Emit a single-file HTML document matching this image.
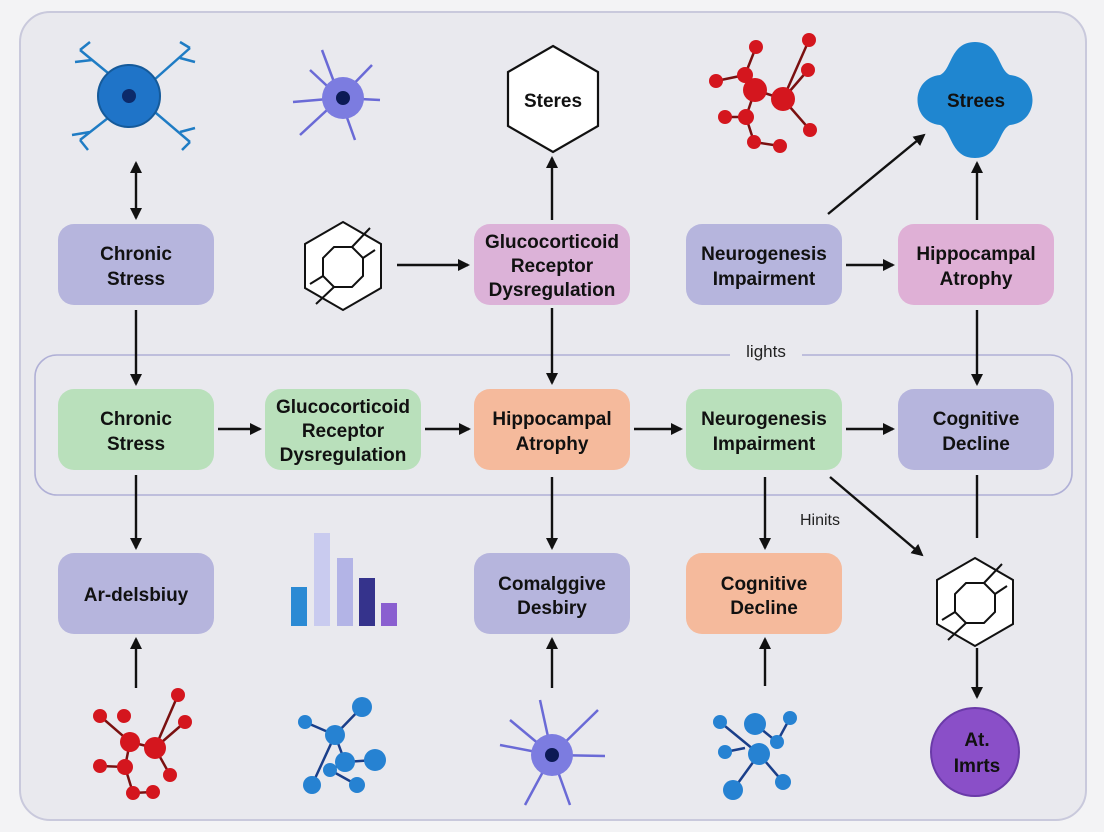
<!DOCTYPE html>
<html><head><meta charset="utf-8"><style>
html,body{margin:0;padding:0;background:#f3f3f5;}
svg{display:block;font-family:"Liberation Sans",sans-serif;}
.t{font-size:19px;font-weight:bold;fill:#111;text-anchor:middle;}
.l{stroke:#111;stroke-width:2.4;fill:none;}
</style></head><body>
<svg width="1104" height="832" viewBox="0 0 1104 832" xmlns="http://www.w3.org/2000/svg">
<defs>
<marker id="a" markerWidth="12" markerHeight="12" refX="10" refY="6" orient="auto" markerUnits="userSpaceOnUse"><path d="M0,0 L12,6 L0,12 z" fill="#111"/></marker>
<marker id="b" markerWidth="12" markerHeight="12" refX="2" refY="6" orient="auto" markerUnits="userSpaceOnUse"><path d="M12,0 L0,6 L12,12 z" fill="#111"/></marker>
</defs>
<rect x="0" y="0" width="1104" height="832" fill="#f3f3f5"/>
<rect x="20" y="12" width="1066" height="808" rx="30" fill="#e9e9ee" stroke="#c9c9dc" stroke-width="2"/>
<rect x="35" y="355" width="1037" height="140" rx="22" fill="none" stroke="#b0b0d6" stroke-width="1.6"/>
<rect x="730" y="340" width="72" height="22" fill="#e9e9ee"/>
<text x="766" y="357" font-size="17" fill="#222" text-anchor="middle">lights</text>
<text x="820" y="525" font-size="16" fill="#222" text-anchor="middle">Hinits</text>

<g>
<rect x="58" y="224" width="156" height="81" rx="16" fill="#b6b5dd"/>
<text class="t" x="136" y="260">Chronic</text><text class="t" x="136" y="285">Stress</text>
<rect x="474" y="224" width="156" height="81" rx="16" fill="#dcb2d8"/>
<text class="t" x="552" y="248">Glucocorticoid</text><text class="t" x="552" y="272">Receptor</text><text class="t" x="552" y="296">Dysregulation</text>
<rect x="686" y="224" width="156" height="81" rx="16" fill="#b6b5dd"/>
<text class="t" x="764" y="260">Neurogenesis</text><text class="t" x="764" y="285">Impairment</text>
<rect x="898" y="224" width="156" height="81" rx="16" fill="#dfb0d6"/>
<text class="t" x="976" y="260">Hippocampal</text><text class="t" x="976" y="285">Atrophy</text>

<rect x="58" y="389" width="156" height="81" rx="16" fill="#b9e0bb"/>
<text class="t" x="136" y="425">Chronic</text><text class="t" x="136" y="450">Stress</text>
<rect x="265" y="389" width="156" height="81" rx="16" fill="#b9e0bb"/>
<text class="t" x="343" y="413">Glucocorticoid</text><text class="t" x="343" y="437">Receptor</text><text class="t" x="343" y="461">Dysregulation</text>
<rect x="474" y="389" width="156" height="81" rx="16" fill="#f5ba9c"/>
<text class="t" x="552" y="425">Hippocampal</text><text class="t" x="552" y="450">Atrophy</text>
<rect x="686" y="389" width="156" height="81" rx="16" fill="#b9e0bb"/>
<text class="t" x="764" y="425">Neurogenesis</text><text class="t" x="764" y="450">Impairment</text>
<rect x="898" y="389" width="156" height="81" rx="16" fill="#b6b5dd"/>
<text class="t" x="976" y="425">Cognitive</text><text class="t" x="976" y="450">Decline</text>

<rect x="58" y="553" width="156" height="81" rx="16" fill="#b6b5dd"/>
<text class="t" x="136" y="601">Ar-delsbiuy</text>
<rect x="474" y="553" width="156" height="81" rx="16" fill="#b6b5dd"/>
<text class="t" x="552" y="590">Comalggive</text><text class="t" x="552" y="614">Desbiry</text>
<rect x="686" y="553" width="156" height="81" rx="16" fill="#f5ba9c"/>
<text class="t" x="764" y="590">Cognitive</text><text class="t" x="764" y="614">Decline</text>
</g>

<g class="l">
<line x1="136" y1="163" x2="136" y2="218" marker-start="url(#b)" marker-end="url(#a)"/>
<line x1="136" y1="310" x2="136" y2="384" marker-end="url(#a)"/>
<line x1="397" y1="265" x2="468" y2="265" marker-end="url(#a)"/>
<line x1="552" y1="220" x2="552" y2="158" marker-end="url(#a)"/>
<line x1="552" y1="308" x2="552" y2="383" marker-end="url(#a)"/>
<line x1="828" y1="214" x2="924" y2="135" marker-end="url(#a)"/>
<line x1="846" y1="265" x2="893" y2="265" marker-end="url(#a)"/>
<line x1="977" y1="220" x2="977" y2="163" marker-end="url(#a)"/>
<line x1="977" y1="310" x2="977" y2="384" marker-end="url(#a)"/>
<line x1="218" y1="429" x2="260" y2="429" marker-end="url(#a)"/>
<line x1="425" y1="429" x2="469" y2="429" marker-end="url(#a)"/>
<line x1="634" y1="429" x2="681" y2="429" marker-end="url(#a)"/>
<line x1="846" y1="429" x2="893" y2="429" marker-end="url(#a)"/>
<line x1="136" y1="475" x2="136" y2="548" marker-end="url(#a)"/>
<line x1="552" y1="477" x2="552" y2="548" marker-end="url(#a)"/>
<line x1="765" y1="477" x2="765" y2="548" marker-end="url(#a)"/>
<line x1="830" y1="477" x2="922" y2="555" marker-end="url(#a)"/>
<line x1="977" y1="475" x2="977" y2="538"/>
<line x1="977" y1="648" x2="977" y2="697" marker-end="url(#a)"/>
<line x1="136" y1="688" x2="136" y2="639" marker-end="url(#a)"/>
<line x1="552" y1="688" x2="552" y2="639" marker-end="url(#a)"/>
<line x1="765" y1="686" x2="765" y2="639" marker-end="url(#a)"/>
</g>

<g stroke="#1f7cc4" stroke-width="2.5" fill="none">
<path d="M136,96 L80,50 M92,60 L75,62 M80,50 L90,42 M136,96 L190,48 M180,58 L195,62 M190,48 L180,42 M136,96 L80,140 M90,132 L72,135 M80,140 L88,150 M136,96 L190,142 M180,132 L195,128 M190,142 L182,150"/>
</g>
<circle cx="129" cy="96" r="31" fill="#1f74c8" stroke="#155a9a" stroke-width="2"/>
<circle cx="129" cy="96" r="7" fill="#0c2a6a"/>
<g stroke="#6a6ad6" stroke-width="2.5" fill="none">
<path d="M340,98 L322,50 M340,98 L372,65 M340,98 L380,100 M340,98 L355,140 M340,98 L300,135 M340,98 L293,102 M340,98 L310,70"/>
</g>
<circle cx="343" cy="98" r="21" fill="#7c7ce0"/><circle cx="343" cy="98" r="7" fill="#0c1a55"/>
<polygon points="553,46 598,72 598,126 553,152 508,126 508,72" fill="#fff" stroke="#111" stroke-width="2.2"/>
<text class="t" x="553" y="107" font-size="18">Steres</text>
<g stroke="#7a1010" stroke-width="2.5" fill="none"><path d="M755,90 L745,75 L756,47 M745,75 L716,81 M755,90 L783,99 L809,40 M783,99 L808,70 M783,99 L810,130 M755,90 L746,117 L725,117 M746,117 L754,142 L780,146"/></g>
<g fill="#d4161e"><circle cx="755" cy="90" r="12"/><circle cx="783" cy="99" r="12"/><circle cx="745" cy="75" r="8"/><circle cx="756" cy="47" r="7"/><circle cx="716" cy="81" r="7"/><circle cx="809" cy="40" r="7"/><circle cx="808" cy="70" r="7"/><circle cx="810" cy="130" r="7"/><circle cx="746" cy="117" r="8"/><circle cx="725" cy="117" r="7"/><circle cx="754" cy="142" r="7"/><circle cx="780" cy="146" r="7"/></g>
<path d="M975,42 C1000,42 998,70 1010,75 C1040,78 1040,122 1010,125 C998,130 1000,158 975,158 C950,158 952,130 940,125 C910,122 910,78 940,75 C952,70 950,42 975,42 z" fill="#1f86d0"/>
<text class="t" x="976" y="107" font-size="18">Strees</text>
<g id="hx" fill="none" stroke="#111" stroke-width="2">
<polygon points="343,222 381,244 381,288 343,310 305,288 305,244" fill="#fff"/>
<polygon points="334,247 352,247 363,258 363,276 352,287 334,287 323,276 323,258"/>
<path d="M352,247 L370,228 M363,258 L375,250 M334,287 L316,304 M323,276 L310,284"/>
</g>
<use href="#hx" transform="translate(632,336)"/>
<rect x="291" y="587" width="16" height="39" fill="#2b8ad4"/>
<rect x="314" y="533" width="16" height="93" fill="#c9cbef"/>
<rect x="337" y="558" width="16" height="68" fill="#b3b4e6"/>
<rect x="359" y="578" width="16" height="48" fill="#35338c"/>
<rect x="381" y="603" width="16" height="23" fill="#8a5fd0"/>
<g stroke="#7a1010" stroke-width="2.5" fill="none"><path d="M130,742 L100,716 M130,742 L155,748 L178,695 M155,748 L185,722 M155,748 L170,775 M130,742 L125,767 L100,766 M125,767 L133,793 L153,792"/></g>
<g fill="#d4161e"><circle cx="130" cy="742" r="10"/><circle cx="155" cy="748" r="11"/><circle cx="100" cy="716" r="7"/><circle cx="178" cy="695" r="7"/><circle cx="185" cy="722" r="7"/><circle cx="170" cy="775" r="7"/><circle cx="125" cy="767" r="8"/><circle cx="100" cy="766" r="7"/><circle cx="133" cy="793" r="7"/><circle cx="153" cy="792" r="7"/><circle cx="124" cy="716" r="7"/></g>
<g stroke="#1a3f8a" stroke-width="2.5" fill="none"><path d="M312,785 L335,735 L362,707 M335,735 L345,762 L375,760 M345,762 L330,770 L357,785 M335,735 L305,722"/></g>
<g fill="#2682d2"><circle cx="335" cy="735" r="10"/><circle cx="362" cy="707" r="10"/><circle cx="345" cy="762" r="10"/><circle cx="375" cy="760" r="11"/><circle cx="312" cy="785" r="9"/><circle cx="330" cy="770" r="7"/><circle cx="357" cy="785" r="8"/><circle cx="305" cy="722" r="7"/></g>
<g stroke="#6a6ad6" stroke-width="2.5" fill="none">
<path d="M552,755 L540,700 M552,755 L598,710 M552,755 L605,756 M552,755 L570,805 M552,755 L525,805 M552,755 L500,745 M552,755 L510,720"/>
</g>
<circle cx="552" cy="755" r="21" fill="#7c7ce0"/><circle cx="552" cy="755" r="7" fill="#0c1a55"/>
<g stroke="#1a3f8a" stroke-width="2.5" fill="none"><path d="M720,722 L759,754 L733,790 M759,754 L783,782 M745,748 L725,752 M755,724 L777,742 L790,718"/></g>
<g fill="#2682d2"><circle cx="755" cy="724" r="11"/><circle cx="759" cy="754" r="11"/><circle cx="720" cy="722" r="7"/><circle cx="725" cy="752" r="7"/><circle cx="777" cy="742" r="7"/><circle cx="790" cy="718" r="7"/><circle cx="733" cy="790" r="10"/><circle cx="783" cy="782" r="8"/></g>
<circle cx="975" cy="752" r="44" fill="#8a4fc8" stroke="#6a3aa8" stroke-width="2"/>
<text class="t" x="977" y="746">At.</text><text class="t" x="977" y="772">Imrts</text>
</svg>
</body></html>
